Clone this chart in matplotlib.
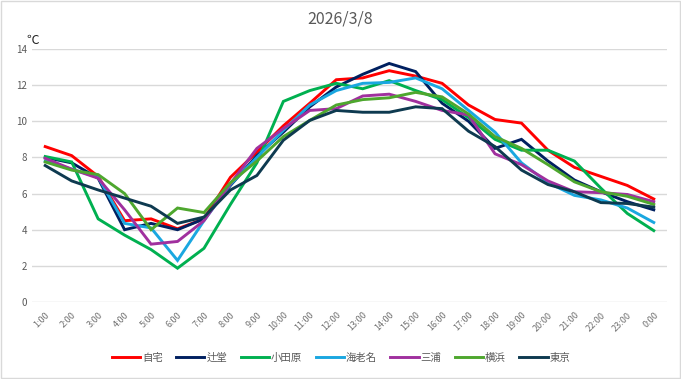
import matplotlib.pyplot as plt
import numpy as np

plt.rcParams['font.family'] = ['Noto Sans CJK JP', 'DejaVu Sans']

hours = ['1:00', '2:00', '3:00', '4:00', '5:00', '6:00', '7:00', '8:00', '9:00', '10:00',
         '11:00', '12:00', '13:00', '14:00', '15:00', '16:00', '17:00', '18:00', '19:00',
         '20:00', '21:00', '22:00', '23:00', '0:00']

jitaku = [8.6, 8.1, 6.95, 4.5, 4.6, 4.05, 4.6, 6.9, 8.3, 9.75, 11.0, 12.3, 12.4, 12.8,
          12.5, 12.1, 10.9, 10.1, 9.9, 8.4, 7.45, 6.95, 6.45, 5.7]
tsujido = [8.0, 7.7, 6.85, 4.0, 4.35, 4.0, 4.6, 6.45, 8.1, 9.4, 10.8, 11.9, 12.6, 13.2,
           12.75, 11.0, 10.0, 8.5, 9.0, 7.8, 6.75, 6.1, 5.55, 5.1]
odawara = [8.05, 7.75, 4.6, 3.7, 2.9, 1.87, 2.97, 5.4, 7.7, 11.1, 11.7, 12.1, 11.8, 12.25,
           11.7, 11.2, 10.2, 9.0, 8.4, 8.4, 7.8, 6.3, 4.9, 3.95]
ebina = [7.8, 7.35, 6.9, 4.35, 4.1, 2.3, 4.5, 6.5, 8.0, 9.5, 10.9, 11.7, 12.1, 12.15,
         12.4, 11.8, 10.6, 9.4, 7.7, 6.6, 5.9, 5.65, 5.2, 4.4]
miura = [7.95, 7.35, 6.85, 5.1, 3.2, 3.35, 4.5, 6.55, 8.5, 9.6, 10.6, 10.7, 11.4, 11.5,
         11.1, 10.6, 10.35, 8.2, 7.6, 6.7, 6.1, 6.05, 5.95, 5.55]
yokohama = [7.75, 7.3, 7.05, 6.0, 4.0, 5.2, 4.95, 6.6, 7.8, 9.15, 10.05, 10.9, 11.2, 11.3,
            11.6, 11.35, 10.4, 9.15, 8.5, 7.6, 6.65, 6.1, 5.85, 5.4]
tokyo = [7.55, 6.7, 6.2, 5.75, 5.3, 4.35, 4.7, 6.2, 7.0, 8.95, 10.05, 10.6, 10.5, 10.5,
         10.8, 10.7, 9.45, 8.6, 7.3, 6.5, 6.1, 5.5, 5.45, 5.25]

names = ['自宅', '辻堂', '小田原', '海老名', '三浦', '横浜', '東京']
series = [jitaku, tsujido, odawara, ebina, miura, yokohama, tokyo]
colors = ['#FF0000', '#002060', '#00B050', '#1AA7E0', '#A0309E', '#4EA72E', '#0E3A50']

fig = plt.figure(figsize=(6.81, 3.79), dpi=100)
ax = fig.add_axes([32 / 681, 1 - 302 / 379, 635 / 681, 253 / 379])

x = np.arange(len(hours))
for name, vals, c in zip(names, series, colors):
    ax.plot(x, vals, color=c, lw=2.1, label=name, solid_joinstyle='miter')

ax.set_xlim(-0.5, len(hours) - 0.5)
ax.set_ylim(0, 14)
ax.set_yticks(range(0, 15, 2))
ax.set_xticks(x)
ax.set_xticklabels(hours, rotation=45, ha='right', rotation_mode='anchor')
ax.tick_params(axis='both', length=0, labelsize=7, colors='#595959')
ax.tick_params(axis='x', pad=6, labelsize=6.5, colors='#707070')
ax.grid(axis='y', color='#D9D9D9', lw=1)
ax.set_axisbelow(True)
for s in ax.spines.values():
    s.set_visible(False)

fig.text(340 / 681, 1 - 19 / 379, '2026/3/8', ha='center', va='center',
         fontsize=11.5, color='#595959')
fig.text(33 / 681, 1 - 40 / 379, '℃', ha='center', va='center', fontsize=9, color='#262626')

fig.legend(loc='center', bbox_to_anchor=(341 / 681, 1 - 358 / 379), ncol=7, frameon=False,
           fontsize=7.5, handlelength=2.7, columnspacing=1.3, handletextpad=0.2,
           labelcolor='#595959')

# chart border
fig.patches.append(plt.Rectangle((0.001, 0.002), 0.997, 0.995, transform=fig.transFigure,
                                 fill=False, edgecolor='#D9D9D9', lw=1))

fig.savefig('out.png', dpi=100)
